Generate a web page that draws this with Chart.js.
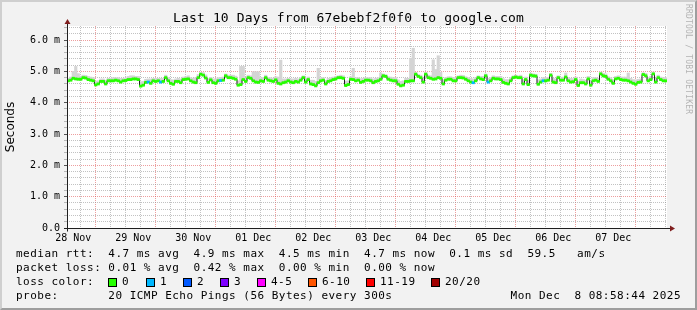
<!DOCTYPE html>
<html>
<head>
<meta charset="utf-8">
<script src="https://cdn.jsdelivr.net/npm/chart.js@4/dist/chart.umd.min.js"></script>
<style>
  html, body { margin: 0; padding: 0; background: #f2f2f2; }
  #wrap { position: relative; width: 697px; height: 310px; overflow: hidden; background: #f2f2f2; }
  #frame { position: absolute; left: 0; top: 0; width: 693px; height: 306px;
           border-left: 2px solid #cfcfcf; border-top: 2px solid #cfcfcf;
           border-right: 2px solid #9e9e9e; border-bottom: 2px solid #9e9e9e; pointer-events: none; }
  canvas { position: absolute; left: 0; top: 0; }
  .t { position: absolute; font-family: "DejaVu Sans Mono", monospace; color: #000; white-space: pre; }
  #title { left: 0; width: 697px; top: 10px; text-align: center; font-size: 13px; letter-spacing: 0.15px; line-height: 16px; }
  .row { left: 16px; font-size: 11px; letter-spacing: 0.48px; line-height: 14px; }
  .sw { position: absolute; width: 7px; height: 7px; border: 1px solid #000; top: 278px; }
  #stamp { right: 16px; top: 289px; font-size: 11px; letter-spacing: 0.48px; line-height: 14px; }
  #rrd { position: absolute; left: 684px; top: 4px; writing-mode: vertical-rl; font-family: "DejaVu Sans Mono", monospace;
         font-size: 8px; letter-spacing: 0.2px; color: #b4b4b4; white-space: pre; }
</style>
</head>
<body>
<div id="wrap">
  <canvas id="c" width="697" height="310"></canvas>
  <div id="title" class="t">Last 10 Days from 67ebebf2f0f0 to google.com</div>
  <div id="rrd">RRDTOOL / TOBI OETIKER</div>
  <div class="t row" style="top:247px">median rtt:  4.7 ms avg  4.9 ms max  4.5 ms min  4.7 ms now  0.1 ms sd  59.5   am/s</div>
  <div class="t row" style="top:261px">packet loss: 0.01 % avg  0.42 % max  0.00 % min  0.00 % now</div>
  <div class="t row" style="top:275px">loss color:</div>
  <div id="legendBoxes"></div>
  <div class="t row" style="top:289px">probe:       20 ICMP Echo Pings (56 Bytes) every 300s</div>
  <div id="stamp" class="t">Mon Dec  8 08:58:44 2025</div>
  <div id="frame"></div>
</div>
<script>
// ---- data (hourly consolidated samples, last 10 days) ----
const startHour = 9.48;          // hours after 28 Nov 00:00 at left edge of graph
const spanHours = 240;
const dayLabels = ['28 Nov', '29 Nov', '30 Nov', '01 Dec', '02 Dec', '03 Dec', '04 Dec', '05 Dec', '06 Dec', '07 Dec'];

// median rtt in ms (one value per hour)
const medianRtt = [
  4.70,4.72,4.78,4.76,4.75,4.75,4.80,4.79,4.74,4.72, 4.70,4.57,4.60,4.68,4.68,4.60,4.70,4.70,4.70,4.72,
  4.70,4.66,4.70,4.71,4.74,4.74,4.76,4.76,4.74,4.53, 4.56,4.65,4.66,4.62,4.70,4.68,4.70,4.66,4.68,4.80,
  4.70,4.62,4.59,4.68,4.68,4.64,4.74,4.75,4.76,4.70, 4.66,4.64,4.80,4.91,4.88,4.79,4.65,4.73,4.64,4.62,
  4.70,4.71,4.72,4.86,4.80,4.80,4.78,4.75,4.56,4.58, 4.74,4.68,4.80,4.78,4.70,4.66,4.65,4.70,4.68,4.80,
  4.72,4.70,4.68,4.73,4.62,4.60,4.64,4.66,4.70,4.66, 4.64,4.68,4.66,4.72,4.80,4.66,4.74,4.60,4.58,4.54,
  4.64,4.70,4.72,4.60,4.68,4.70,4.74,4.76,4.80,4.80, 4.78,4.55,4.58,4.75,4.74,4.70,4.72,4.65,4.68,4.72,
  4.72,4.70,4.64,4.68,4.70,4.75,4.86,4.84,4.75,4.72, 4.70,4.70,4.59,4.54,4.56,4.68,4.68,4.70,4.70,4.91,
  4.84,4.80,4.66,4.91,4.80,4.78,4.75,4.76,4.80,4.78, 4.60,4.72,4.75,4.75,4.70,4.70,4.80,4.80,4.79,4.75,
  4.70,4.66,4.64,4.70,4.80,4.76,4.74,4.86,4.66,4.70, 4.78,4.76,4.76,4.74,4.65,4.62,4.60,4.70,4.80,4.82,
  4.80,4.80,4.60,4.74,4.58,4.88,4.86,4.85,4.59,4.66, 4.70,4.70,4.72,4.88,4.66,4.64,4.80,4.72,4.72,4.82,
  4.70,4.66,4.67,4.74,4.55,4.64,4.64,4.60,4.76,4.56, 4.70,4.72,4.68,4.92,4.86,4.84,4.75,4.70,4.62,4.76,
  4.78,4.74,4.72,4.72,4.70,4.66,4.62,4.59,4.65,4.66, 4.90,4.86,4.70,4.74,4.92,4.66,4.80,4.74,4.70,4.70
];

// smoke: how far the slowest pings of each hour reach above the median (ms)
const smokeSpread = [
  0.08,0.10,0.22,0.40,0.18,0.10,0.08,0.08,0.10,0.10, 0.10,0.12,0.10,0.08,0.08,0.12,0.08,0.08,0.10,0.08,
  0.10,0.12,0.08,0.08,0.10,0.12,0.10,0.08,0.10,0.14, 0.12,0.10,0.10,0.14,0.08,0.10,0.08,0.12,0.10,0.08,
  0.10,0.12,0.14,0.08,0.10,0.12,0.08,0.08,0.10,0.10, 0.12,0.16,0.10,0.06,0.08,0.10,0.12,0.08,0.12,0.14,
  0.10,0.10,0.10,0.06,0.08,0.08,0.10,0.10,0.14,0.58, 0.42,0.10,0.08,0.08,0.29,0.33,0.34,0.10,0.12,0.08,
  0.08,0.10,0.10,0.10,0.20,0.76,0.12,0.10,0.08,0.10, 0.12,0.10,0.10,0.08,0.06,0.10,0.08,0.12,0.14,0.14,
  0.46,0.10,0.08,0.12,0.10,0.10,0.08,0.08,0.06,0.08, 0.08,0.14,0.12,0.08,0.36,0.10,0.08,0.12,0.10,0.08,
  0.08,0.10,0.12,0.10,0.10,0.20,0.06,0.06,0.08,0.10, 0.10,0.10,0.14,0.14,0.14,0.10,0.10,0.72,1.04,0.06,
  0.06,0.08,0.12,0.06,0.08,0.08,0.62,0.30,0.70,0.20, 0.14,0.08,0.08,0.08,0.10,0.10,0.06,0.08,0.08,0.08,
  0.10,0.12,0.12,0.10,0.06,0.08,0.10,0.06,0.12,0.10, 0.08,0.08,0.08,0.10,0.12,0.12,0.14,0.10,0.06,0.06,
  0.06,0.08,0.14,0.08,0.14,0.06,0.06,0.06,0.14,0.10, 0.10,0.10,0.08,0.06,0.12,0.12,0.06,0.08,0.10,0.13,
  0.10,0.12,0.10,0.08,0.14,0.12,0.10,0.12,0.08,0.14, 0.10,0.08,0.10,0.06,0.08,0.08,0.08,0.10,0.12,0.08,
  0.08,0.08,0.10,0.10,0.25,0.12,0.12,0.14,0.10,0.10, 0.06,0.08,0.10,0.10,0.06,0.12,0.08,0.08,0.10,0.10
];

// hours in which 1 of 20 pings was lost
const oneLossHours = [32, 37, 61, 162, 168, 190];

// loss colour legend
const lossLabels = ['0', '1', '2', '3', '4-5', '6-10', '11-19', '20/20'];
const lossColors = ['#26ff00', '#00b8ff', '#0059ff', '#7e00ff', '#ff00ff', '#ff5500', '#ff0000', '#a10000'];

// ---- legend boxes (layout) ----
const boxLefts = [108, 146, 183, 220, 257, 308, 366, 431];
const lb = document.getElementById('legendBoxes');
lossLabels.forEach((lab, i) => {
  const b = document.createElement('div');
  b.className = 'sw'; b.style.left = boxLefts[i] + 'px'; b.style.background = lossColors[i];
  lb.appendChild(b);
  const t = document.createElement('div');
  t.className = 't row'; t.style.left = (boxLefts[i] + 14) + 'px'; t.style.top = '275px';
  t.textContent = lab;
  lb.appendChild(t);
});

// ---- build datasets ----
const xs = medianRtt.map((_, i) => startHour + i + 0.5);
const smokeData = medianRtt.map((m, i) => ({ x: xs[i], y: [m, m + smokeSpread[i]] }));
const bandData = medianRtt.map((m, i) => ({ x: xs[i], y: [m - 0.035, m + 0.035] }));
const bandColors = medianRtt.map((_, i) => oneLossHours.includes(i) ? lossColors[1] : lossColors[0]);
const lineData = medianRtt.map((m, i) => ({ x: xs[i], y: m }));

// ticks every 6 hours; midnight = major, noon = labelled
const xTicks = [];
for (let h = Math.ceil(startHour / 6) * 6; h <= startHour + spanHours; h += 6) xTicks.push(h);

const GRID = 'rgba(143,143,143,0.55)';
const MGRID = 'rgba(222,79,79,0.55)';
const MONO = '"DejaVu Sans Mono", monospace';

const bgPlugin = {
  id: 'bg',
  beforeDraw(chart) {
    const a = chart.chartArea, ctx = chart.ctx;
    ctx.save(); ctx.fillStyle = '#ffffff';
    ctx.fillRect(a.left, a.top, a.right - a.left, a.bottom - a.top);
    ctx.restore();
  },
  afterDraw(chart) {
    const a = chart.chartArea, ctx = chart.ctx;
    ctx.save();
    ctx.strokeStyle = '#1f1f1f'; ctx.lineWidth = 1;
    const lx = Math.round(a.left) + 0.5, by = Math.round(a.bottom) + 0.5;
    ctx.beginPath(); ctx.moveTo(lx, by + 3); ctx.lineTo(lx, a.top - 3); ctx.stroke();
    ctx.beginPath(); ctx.moveTo(a.left - 3, by); ctx.lineTo(a.right + 4, by); ctx.stroke();
    ctx.fillStyle = '#801f1f';
    ctx.beginPath(); ctx.moveTo(lx, a.top - 7); ctx.lineTo(lx - 3, a.top - 2); ctx.lineTo(lx + 3, a.top - 2); ctx.closePath(); ctx.fill();
    ctx.beginPath(); ctx.moveTo(a.right + 8, by); ctx.lineTo(a.right + 3, by - 3); ctx.lineTo(a.right + 3, by + 3); ctx.closePath(); ctx.fill();
    ctx.restore();
  }
};

new Chart(document.getElementById('c'), {
  type: 'bar',
  data: {
    datasets: [
      { type: 'bar', data: bandData, backgroundColor: bandColors, borderWidth: 0, grouped: false,
        barPercentage: 1, categoryPercentage: 1, order: 0 },
      { type: 'line', data: lineData, borderColor: '#202020', borderWidth: 1, pointRadius: 0,
        stepped: 'middle', fill: false, order: 1 },
      { type: 'bar', data: smokeData, backgroundColor: '#d4d4d4', borderWidth: 0, grouped: false,
        barPercentage: 1, categoryPercentage: 1, order: 2 }
    ]
  },
  options: {
    responsive: false,
    animation: false,
    events: [],
    layout: { padding: { top: 26, right: 30, left: 0, bottom: 0 } },
    plugins: { legend: { display: false }, tooltip: { enabled: false }, title: { display: false } },
    scales: {
      x: {
        type: 'linear', offset: false,
        min: startHour, max: startHour + spanHours,
        afterFit: s => { s.height = 82; },
        afterBuildTicks: s => { s.ticks = xTicks.map(v => ({ value: v })); },
        grid: {
          color: ctx => (ctx.tick && ctx.tick.value % 24 === 0) ? MGRID : GRID,
          lineWidth: 1, tickLength: 3,
          tickColor: 'rgba(0,0,0,0)'
        },
        border: { display: false, dash: [1, 1] },
        ticks: {
          autoSkip: false, maxRotation: 0, padding: 1,
          color: '#000', font: { family: MONO, size: 10 },
          callback: v => (v % 24 === 12) ? dayLabels[(v - 12) / 24] : ''
        }
      },
      y: {
        type: 'linear', min: 0, max: 6.45,
        afterFit: s => { s.width = 67; },
        grid: {
          color: ctx => (ctx.tick && Math.round(ctx.tick.value * 5) % 5 === 0) ? MGRID : GRID,
          lineWidth: 1, tickLength: 3,
          tickColor: ctx => (ctx.tick && Math.round(ctx.tick.value * 5) % 5 === 0) ? '#555' : 'rgba(143,143,143,0.6)'
        },
        border: { display: false, dash: [1, 1] },
        ticks: {
          stepSize: 0.2, includeBounds: false, autoSkip: false, padding: 4,
          color: '#000', font: { family: MONO, size: 10 },
          callback: v => {
            const k = Math.round(v * 5);
            if (k % 5 !== 0) return '';
            return k === 0 ? '0.0' : (k / 5).toFixed(1) + ' m';
          }
        },
        title: { display: true, text: 'Seconds', color: '#000',
                 font: { family: '"DejaVu Sans", sans-serif', size: 12 }, padding: { top: 4, bottom: 0 } }
      }
    }
  },
  plugins: [bgPlugin]
});
</script>
</body>
</html>
